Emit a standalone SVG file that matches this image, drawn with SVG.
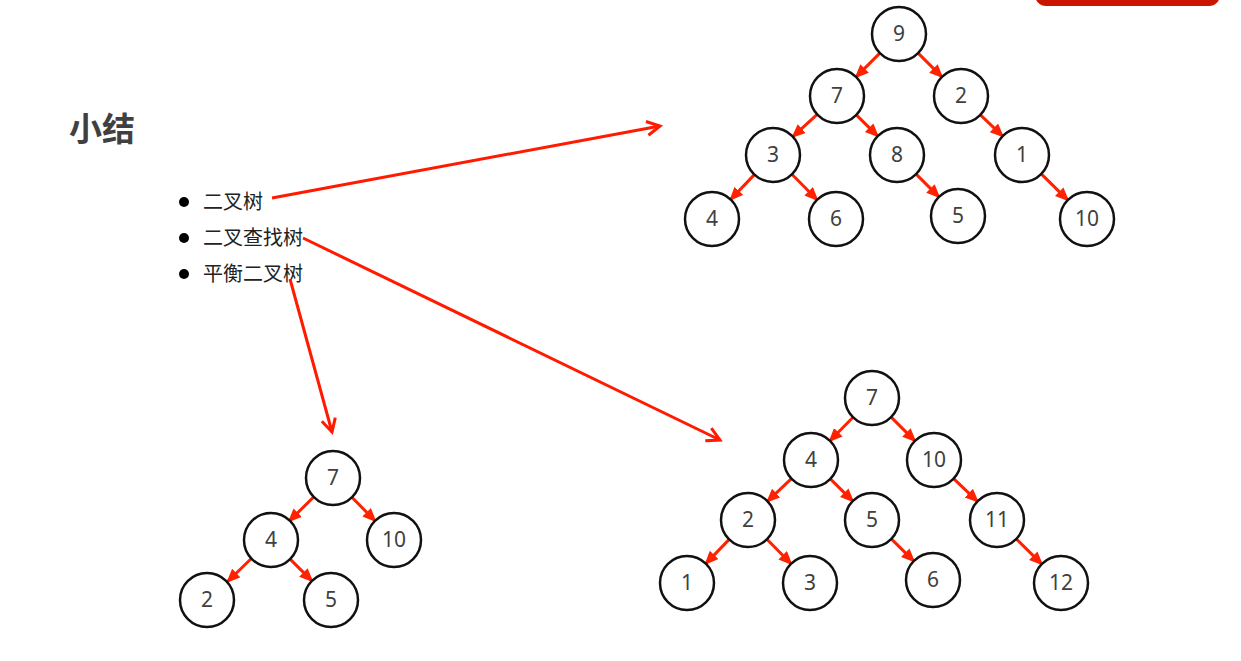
<svg xmlns="http://www.w3.org/2000/svg" width="1241" height="661" viewBox="0 0 1241 661">
<style>
.n circle{fill:#fff;stroke:#111;stroke-width:2.5}
.n text{font-family:"Noto Sans","Open Sans",sans-serif;font-size:21px;fill:#404040;text-anchor:middle}
.e line{stroke:#ff2200;stroke-width:3;marker-end:url(#ah)}
.p line{stroke:#ff1a00;stroke-width:3;marker-end:url(#ch)}
.b{font-family:"Noto Sans CJK SC","Noto Sans",sans-serif;font-size:20px;fill:#222}
</style>
<defs>
<marker id="ah" markerUnits="userSpaceOnUse" markerWidth="16" markerHeight="14" refX="12" refY="6" orient="auto"><path d="M0,0 L14,6 L0,12 Z" fill="#ff2200"/></marker>
<marker id="ch" markerUnits="userSpaceOnUse" markerWidth="20" markerHeight="20" refX="15" refY="9" orient="auto"><path d="M2,2 L15,9 L2,16" fill="none" stroke="#ff1a00" stroke-width="3"/></marker>
</defs>
<rect width="1241" height="661" fill="#fff"/>
<rect x="1035" y="-20" width="185" height="26" rx="11" fill="#cc1500"/>
<text x="69" y="141" font-family="'Noto Sans CJK SC',sans-serif" font-size="33" font-weight="bold" fill="#404040">小结</text>
<g id="list">
<circle cx="184" cy="202" r="5" fill="#000"/><text class="b" x="203" y="209">二叉树</text>
<circle cx="184" cy="238" r="5" fill="#000"/><text class="b" x="203" y="245">二叉查找树</text>
<circle cx="184" cy="274" r="5" fill="#000"/><text class="b" x="203" y="281">平衡二叉树</text>
</g>
<g id="pointers" class="p">
<line x1="272" y1="198" x2="660" y2="126"/>
<line x1="303" y1="238" x2="720" y2="440"/>
<line x1="290" y1="279" x2="332" y2="432"/>
</g>
<g id="edges" class="e">
<line x1="879.9" y1="53.1" x2="856.1" y2="76.9"/>
<line x1="918.1" y1="53.1" x2="941.9" y2="76.9"/>
<line x1="817.2" y1="114.3" x2="792.9" y2="136.7"/>
<line x1="856.3" y1="114.9" x2="877.7" y2="136.1"/>
<line x1="980.4" y1="114.8" x2="1002.6" y2="136.2"/>
<line x1="754.4" y1="174.6" x2="730.6" y2="199.5"/>
<line x1="791.9" y1="174.2" x2="817.1" y2="199.8"/>
<line x1="916.1" y1="174.1" x2="938.9" y2="196.9"/>
<line x1="1041.2" y1="173.9" x2="1067.8" y2="200.1"/>
<line x1="853.1" y1="417.2" x2="829.9" y2="440.8"/>
<line x1="891.1" y1="417.1" x2="914.9" y2="440.9"/>
<line x1="791.4" y1="478.6" x2="767.5" y2="501.4"/>
<line x1="830.3" y1="478.9" x2="852.8" y2="501.1"/>
<line x1="953.6" y1="478.6" x2="977.5" y2="501.4"/>
<line x1="729.2" y1="539.4" x2="705.8" y2="563.6"/>
<line x1="766.9" y1="539.2" x2="791.1" y2="563.8"/>
<line x1="891.3" y1="538.9" x2="913.8" y2="561.1"/>
<line x1="1016.2" y1="538.9" x2="1041.8" y2="564.1"/>
<line x1="313.8" y1="496.9" x2="289.2" y2="521.1"/>
<line x1="351.9" y1="497.3" x2="375.1" y2="520.8"/>
<line x1="251.3" y1="558.5" x2="227.7" y2="581.5"/>
<line x1="290.1" y1="559.1" x2="311.9" y2="580.9"/>
</g>
<g id="t1_9" class="n"><circle cx="899" cy="34" r="27"/><text x="899" y="41">9</text></g>
<g id="t1_7" class="n"><circle cx="837" cy="96" r="27"/><text x="837" y="103">7</text></g>
<g id="t1_2" class="n"><circle cx="961" cy="96" r="27"/><text x="961" y="103">2</text></g>
<g id="t1_3" class="n"><circle cx="773" cy="155" r="27"/><text x="773" y="162">3</text></g>
<g id="t1_8" class="n"><circle cx="897" cy="155" r="27"/><text x="897" y="162">8</text></g>
<g id="t1_1" class="n"><circle cx="1022" cy="155" r="27"/><text x="1022" y="162">1</text></g>
<g id="t1_4" class="n"><circle cx="712" cy="219" r="27"/><text x="712" y="226">4</text></g>
<g id="t1_6" class="n"><circle cx="836" cy="219" r="27"/><text x="836" y="226">6</text></g>
<g id="t1_5" class="n"><circle cx="958" cy="216" r="27"/><text x="958" y="223">5</text></g>
<g id="t1_10" class="n"><circle cx="1087" cy="219" r="27"/><text x="1087" y="226">10</text></g>
<g id="t2_7" class="n"><circle cx="872" cy="398" r="27"/><text x="872" y="405">7</text></g>
<g id="t2_4" class="n"><circle cx="811" cy="460" r="27"/><text x="811" y="467">4</text></g>
<g id="t2_10" class="n"><circle cx="934" cy="460" r="27"/><text x="934" y="467">10</text></g>
<g id="t2_2" class="n"><circle cx="748" cy="520" r="27"/><text x="748" y="527">2</text></g>
<g id="t2_5" class="n"><circle cx="872" cy="520" r="27"/><text x="872" y="527">5</text></g>
<g id="t2_11" class="n"><circle cx="997" cy="520" r="27"/><text x="997" y="527">11</text></g>
<g id="t2_1" class="n"><circle cx="687" cy="583" r="27"/><text x="687" y="590">1</text></g>
<g id="t2_3" class="n"><circle cx="810" cy="583" r="27"/><text x="810" y="590">3</text></g>
<g id="t2_6" class="n"><circle cx="933" cy="580" r="27"/><text x="933" y="587">6</text></g>
<g id="t2_12" class="n"><circle cx="1061" cy="583" r="27"/><text x="1061" y="590">12</text></g>
<g id="t3_7" class="n"><circle cx="333" cy="478" r="27"/><text x="333" y="485">7</text></g>
<g id="t3_4" class="n"><circle cx="271" cy="540" r="27"/><text x="271" y="547">4</text></g>
<g id="t3_10" class="n"><circle cx="394" cy="540" r="27"/><text x="394" y="547">10</text></g>
<g id="t3_2" class="n"><circle cx="207" cy="600" r="27"/><text x="207" y="607">2</text></g>
<g id="t3_5" class="n"><circle cx="331" cy="600" r="27"/><text x="331" y="607">5</text></g>
</svg>
